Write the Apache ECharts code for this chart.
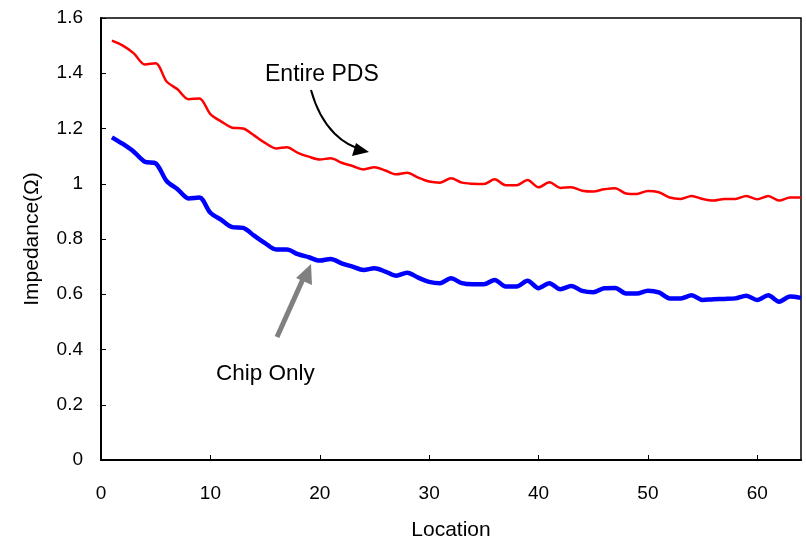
<!DOCTYPE html>
<html>
<head>
<meta charset="utf-8">
<script src="https://cdn.jsdelivr.net/npm/echarts@6/dist/echarts.min.js"></script>
<style>
html,body{margin:0;padding:0;background:#fff;}
#chart{width:806px;height:547px;}
</style>
</head>
<body>
<div id="chart"></div>
<script>
var locations = [];
for (var i = 1; i <= 64; i++) locations.push(i);

var entirePDS = [
  1.518, 1.500, 1.472, 1.432, 1.436, 1.370, 1.342, 1.306, 1.309, 1.252,
  1.225, 1.203, 1.200, 1.175, 1.148, 1.128, 1.132, 1.112, 1.098, 1.088,
  1.092, 1.076, 1.064, 1.052, 1.060, 1.048, 1.034, 1.040, 1.022, 1.008,
  1.004, 1.020, 1.004, 1.000, 0.999, 1.016, 0.995, 0.995, 1.014, 0.987,
  1.005, 0.985, 0.987, 0.975, 0.972, 0.980, 0.984, 0.965, 0.963, 0.974,
  0.969, 0.950, 0.945, 0.956, 0.945, 0.939, 0.945, 0.945, 0.956, 0.944,
  0.956, 0.939, 0.950, 0.950
];

var chipOnly = [
  1.168, 1.144, 1.116, 1.080, 1.074, 1.010, 0.980, 0.947, 0.950, 0.895,
  0.869, 0.843, 0.840, 0.812, 0.785, 0.762, 0.762, 0.745, 0.734, 0.722,
  0.728, 0.712, 0.700, 0.688, 0.694, 0.682, 0.667, 0.678, 0.660, 0.645,
  0.640, 0.658, 0.640, 0.636, 0.636, 0.652, 0.628, 0.628, 0.649, 0.622,
  0.640, 0.618, 0.630, 0.612, 0.607, 0.622, 0.623, 0.603, 0.603, 0.613,
  0.607, 0.585, 0.585, 0.596, 0.579, 0.582, 0.583, 0.585, 0.595, 0.579,
  0.596, 0.573, 0.592, 0.587
];

var xTicks = [0, 10, 20, 30, 40, 50, 60];
var yTicks = [0, 0.2, 0.4, 0.6, 0.8, 1, 1.2, 1.4, 1.6];

function pairs(xs, ys) { return xs.map(function (x, i) { return [x, ys[i]]; }); }

var FONT = '"Liberation Sans", Arial, sans-serif';
var chart = echarts.init(document.getElementById('chart'), null, {renderer: 'canvas'});

chart.setOption({
  animation: false,
  backgroundColor: '#fff',
  grid: {left: 101, right: 5, top: 18, bottom: 87, show: true, borderColor: '#000', borderWidth: 1.5, backgroundColor: 'transparent'},
  xAxis: {
    type: 'value', min: 0, max: 64, interval: 10,
    name: 'Location', nameLocation: 'middle', nameGap: 60,
    nameTextStyle: {fontFamily: FONT, fontSize: 21, color: '#000'},
    axisLine: {lineStyle: {color: '#000', width: 2}},
    axisTick: {inside: true, length: 5, lineStyle: {color: '#000', width: 1}},
    axisLabel: {fontFamily: FONT, fontSize: 19, color: '#000', margin: 24, showMaxLabel: false,
      formatter: function (v) { return xTicks.indexOf(v) >= 0 ? String(v) : ''; }},
    splitLine: {show: false}
  },
  yAxis: {
    type: 'value', min: 0, max: 1.6, interval: 0.2,
    name: 'Impedance(Ω)', nameLocation: 'middle', nameGap: 58, nameRotate: 90,
    nameTextStyle: {fontFamily: FONT, fontSize: 21, color: '#000'},
    axisLine: {show: true, lineStyle: {color: '#000', width: 2}},
    axisTick: {show: true, inside: true, length: 5, lineStyle: {color: '#000', width: 1}},
    axisLabel: {fontFamily: FONT, fontSize: 19, color: '#000', margin: 18,
      formatter: function (v) {
        var r = Math.round(v * 10) / 10;
        return yTicks.indexOf(r) >= 0 ? String(r) : '';
      }},
    splitLine: {show: false}
  },
  series: [
    {
      name: 'Entire PDS', type: 'line', data: pairs(locations, entirePDS),
      smooth: 0.3, showSymbol: false, lineStyle: {color: '#ff0000', width: 2.5}
    },
    {
      name: 'Chip Only', type: 'line', data: pairs(locations, chipOnly),
      smooth: 0.3, showSymbol: false, lineStyle: {color: '#0000ff', width: 4.5}
    }
  ],
  graphic: [
    {type: 'text', left: 265, top: 63, style: {text: 'Entire PDS', font: '23px ' + FONT, fill: '#000'}},
    {type: 'bezierCurve', shape: {x1: 311, y1: 90, x2: 364, y2: 150, cpx1: 322, cpy1: 130, cpx2: 345, cpy2: 146},
      style: {stroke: '#000', lineWidth: 2, fill: null}},
    {type: 'polygon', shape: {points: [[369, 152], [352, 156], [356, 143]]}, style: {fill: '#000'}},
    {type: 'line', shape: {x1: 277, y1: 337, x2: 303, y2: 279}, style: {stroke: '#808080', lineWidth: 5}},
    {type: 'polygon', shape: {points: [[311, 264], [296, 278], [312, 285]]}, style: {fill: '#808080'}},
    {type: 'text', left: 216, top: 362, style: {text: 'Chip Only', font: '22.5px ' + FONT, fill: '#000'}}
  ]
});
</script>
</body>
</html>
